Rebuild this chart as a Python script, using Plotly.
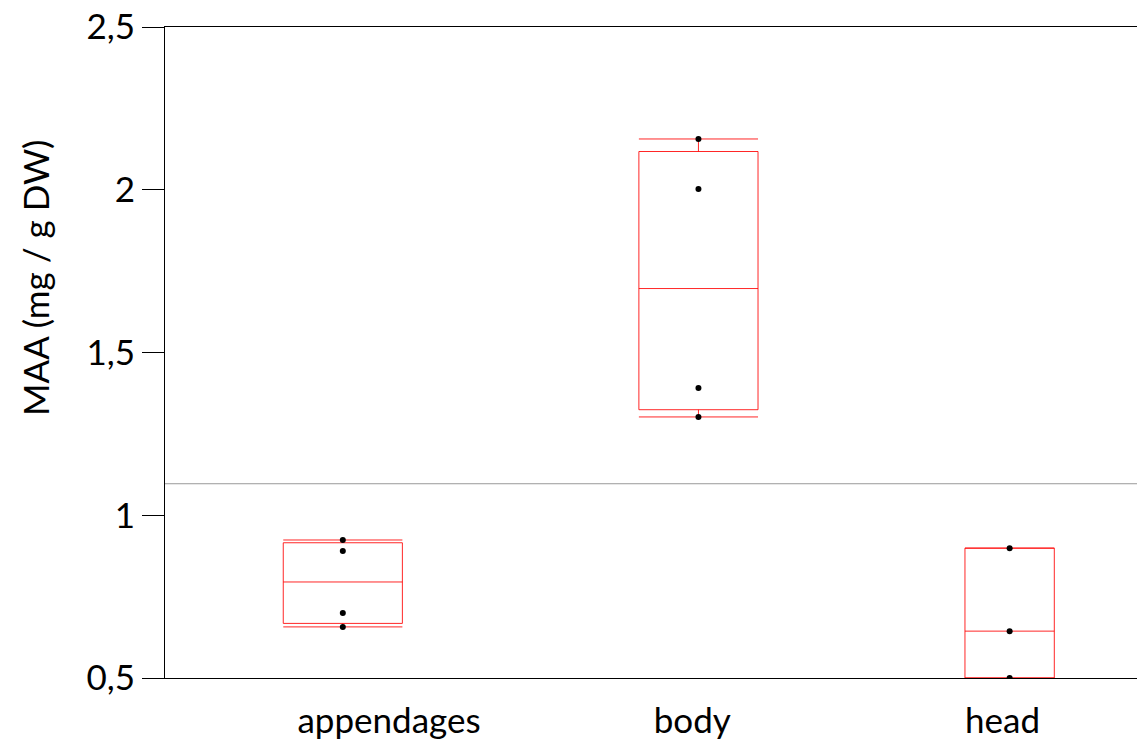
import plotly.graph_objects as go
import numpy as np

categories = ["appendages", "body", "head"]
appendages_vals = [0.924, 0.890, 0.700, 0.657]
body_vals = [2.156, 2.002, 1.391, 1.302]
head_vals = [0.899, 0.644, 0.500]
series = [appendages_vals, body_vals, head_vals]
y_ticks = [0.5, 1, 1.5, 2, 2.5]
y_title = "MAA (mg / g DW)"


def quant(vals, p):
    s = sorted(vals)
    n = len(s)
    h = (n + 1) * p
    h = min(max(h, 1), n)
    lo = int(np.floor(h))
    hi = int(np.ceil(h))
    frac = h - lo
    return s[lo - 1] + frac * (s[hi - 1] - s[lo - 1])


counts = [len(v) for v in series]
edges = np.concatenate([[0], np.cumsum(counts)])
centers = (edges[:-1] + edges[1:]) / 2.0
total = edges[-1]
label_shift = [0.52, -0.07, -0.08]

fig = go.Figure()
RED = "rgba(255,0,0,0.85)"
for cat, vals, c, n in zip(categories, series, centers, counts):
    fig.add_trace(go.Box(
        x=[c], q1=[quant(vals, 0.25)], median=[quant(vals, 0.5)], q3=[quant(vals, 0.75)],
        lowerfence=[min(vals)], upperfence=[max(vals)],
        width=0.335 * n, whiskerwidth=1,
        line=dict(color=RED, width=1), fillcolor="rgba(0,0,0,0)",
        boxpoints=False, name=cat, showlegend=False, hoverinfo="skip",
    ))
    fig.add_trace(go.Scatter(
        x=[c] * len(vals), y=vals, mode="markers",
        marker=dict(color="black", size=6), showlegend=False, name=cat,
    ))

grand_mean = float(np.mean([v for vals in series for v in vals]))
fig.add_shape(type="line", xref="paper", x0=0, x1=1, yref="y", y0=grand_mean, y1=grand_mean,
              line=dict(color="#999999", width=1), layer="below")

FONT = "Lato"
FS = 35
fig.add_annotation(
    text=y_title, textangle=-90, xref="paper", yref="paper",
    x=(35 - 165) / 972, y=(678 - 278) / 651, xanchor="center", yanchor="middle",
    showarrow=False, font=dict(family=FONT, size=FS, color="black"),
)

fig.update_layout(
    width=1137, height=745,
    margin=dict(l=165, r=0, t=27, b=67),
    plot_bgcolor="white", paper_bgcolor="white",
    separators=",.",
    font=dict(family=FONT, size=FS, color="black"),
    xaxis=dict(
        range=[0, total * 972 / 978], showgrid=False, zeroline=False,
        showline=True, linecolor="black", linewidth=1, mirror=True,
        tickvals=list(centers + np.array(label_shift)), ticktext=categories,
        ticks="outside", ticklen=12, tickcolor="rgba(0,0,0,0)", tickfont=dict(size=FS),
    ),
    yaxis=dict(
        range=[0.5, 2.5], tickvals=y_ticks, showgrid=False, zeroline=False,
        showline=True, linecolor="black", linewidth=1,
        ticks="outside", ticklen=22, tickcolor="black", tickwidth=1,
        tickfont=dict(size=FS),
    ),
)

fig.write_html("out.html")
